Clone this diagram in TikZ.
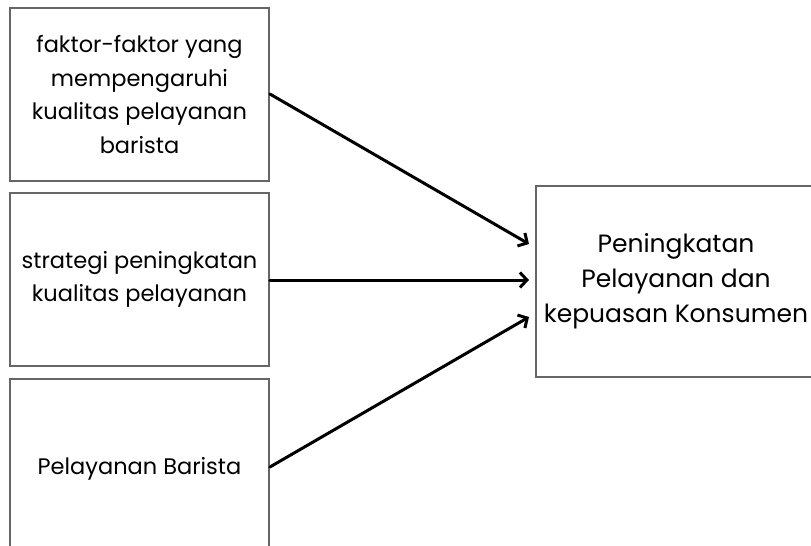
\documentclass[tikz,border=0pt]{standalone}
\usepackage{fontspec}
\setmainfont{Poppins}
\usetikzlibrary{arrows.meta}
\begin{document}
\begin{tikzpicture}[x=1pt,y=-1pt,
  box/.style={draw=black!60, line width=1.8pt, fill=white, align=center,
    font=\fontsize{22.5}{33.5}\selectfont},
  bigbox/.style={box, font=\fontsize{25}{35}\selectfont},
  conn/.style={line width=3pt, -{Straight Barb[length=7pt,width=15pt,line width=3pt]}, line cap=round}]
\useasboundingbox (0,0) rectangle (811,546);
\clip (0,0) rectangle (811,546);
\fill[white] (0,0) rectangle (811,546);
\node[box, minimum width=259pt, minimum height=173pt] (a) at (139.5,94.5) {faktor-faktor yang\\mempengaruhi\\kualitas pelayanan\\barista};
\node[box, minimum width=259pt, minimum height=173pt] (b) at (139.5,279.5) {strategi peningkatan\\kualitas pelayanan};
\node[box, minimum width=259pt, minimum height=180pt] (c) at (139.5,469) {Pelayanan Barista};
\node[bigbox, minimum width=280pt, minimum height=191pt] (d) at (676,281.5) {Peningkatan\\Pelayanan dan\\kepuasan Konsumen};
\coordinate (t1) at (529,244);
\coordinate (t2) at (529,280);
\coordinate (t3) at (529,317);
\draw[conn] (a.east |- 0,94) -- (t1);
\draw[conn] (b.east |- 0,280) -- (t2);
\draw[conn] (c.east |- 0,467) -- (t3);
\end{tikzpicture}
\end{document}
